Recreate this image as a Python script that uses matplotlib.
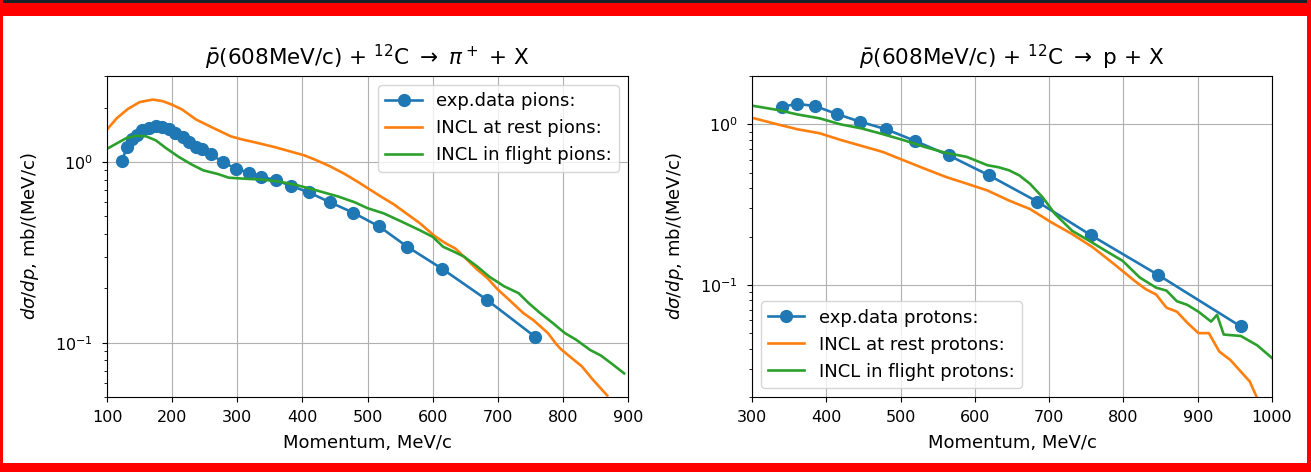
import matplotlib
matplotlib.use("Agg")
import matplotlib.pyplot as plt
from matplotlib.patches import Rectangle

# pions, left panel
pi_exp_p = [123, 131, 139, 146, 154, 164, 175, 185, 195, 205, 216, 226, 236, 246, 259,
            278, 298, 318, 337, 359, 382, 410, 442, 478, 518, 561, 615, 683, 757]
pi_exp_v = [1.02, 1.22, 1.35, 1.42, 1.51, 1.55, 1.58, 1.57, 1.53, 1.45, 1.38, 1.29, 1.22, 1.18, 1.11,
            1.0, 0.92, 0.873, 0.83, 0.795, 0.74, 0.68, 0.60, 0.525, 0.44, 0.34, 0.256, 0.173, 0.108]

pi_rest_p = [101, 115, 132, 150, 170, 185, 200, 215, 237, 261, 290, 306, 330, 358, 380, 403,
             420, 442, 465, 487, 505, 519, 540, 558, 580, 603, 620, 635, 652, 668, 684, 700,
             715, 739, 755, 777, 790, 797, 812, 829, 845, 868]
pi_rest_v = [1.53, 1.75, 1.97, 2.15, 2.22, 2.18, 2.08, 1.96, 1.72, 1.56, 1.39, 1.34, 1.28, 1.21, 1.15, 1.09,
             1.03, 0.95, 0.86, 0.77, 0.70, 0.65, 0.585, 0.525, 0.46, 0.39, 0.355, 0.332, 0.29, 0.255, 0.228, 0.197,
             0.176, 0.146, 0.133, 0.113, 0.098, 0.092, 0.083, 0.074, 0.063, 0.051]

pi_fly_p = [101, 115, 130, 145, 160, 175, 190, 210, 230, 248, 270, 287, 310, 339, 365, 390,
            420, 455, 480, 500, 525, 552, 580, 600, 616, 632, 648, 668, 687, 710, 732, 748,
            765, 785, 803, 820, 842, 858, 874, 894]
pi_fly_v = [1.19, 1.27, 1.36, 1.40, 1.39, 1.32, 1.20, 1.07, 0.97, 0.90, 0.86, 0.82, 0.81, 0.80, 0.78, 0.748,
            0.70, 0.645, 0.60, 0.556, 0.52, 0.469, 0.42, 0.386, 0.34, 0.32, 0.30, 0.265, 0.232, 0.205, 0.188, 0.165,
            0.146, 0.128, 0.113, 0.104, 0.091, 0.085, 0.077, 0.0676]

# protons, right panel
pr_exp_p = [341, 361, 385, 414, 445, 481, 519, 565, 619, 684, 756, 847, 958]
pr_exp_v = [1.29, 1.34, 1.30, 1.16, 1.04, 0.93, 0.79, 0.64, 0.481, 0.33, 0.204, 0.115, 0.055]

pr_rest_p = [303, 334, 362, 391, 419, 447, 476, 504, 532, 561, 589, 617, 646, 674, 703, 731,
             759, 788, 816, 830, 844, 858, 872, 886, 901, 915, 929, 944, 958, 970, 980]
pr_rest_v = [1.09, 1.0, 0.93, 0.88, 0.80, 0.735, 0.673, 0.597, 0.53, 0.47, 0.427, 0.387, 0.335, 0.297, 0.245, 0.207,
             0.171, 0.134, 0.105, 0.094, 0.087, 0.072, 0.068, 0.058, 0.050, 0.050, 0.0384, 0.034, 0.0288, 0.025, 0.0197]

pr_fly_p = [303, 334, 362, 391, 419, 447, 476, 504, 532, 561, 589, 617, 632, 646, 660, 674,
            691, 708, 731, 754, 776, 799, 822, 844, 858, 872, 886, 901, 918, 926, 935, 958, 980, 1000]
pr_fly_v = [1.30, 1.23, 1.15, 1.09, 1.0, 0.944, 0.869, 0.797, 0.724, 0.664, 0.627, 0.556, 0.54, 0.517, 0.48, 0.427,
            0.352, 0.276, 0.217, 0.188, 0.163, 0.141, 0.111, 0.096, 0.092, 0.079, 0.075, 0.068, 0.059, 0.065,
            0.049, 0.048, 0.042, 0.035]

plt.rcParams["lines.linewidth"] = 1.9
plt.rcParams["xtick.labelsize"] = 11.5
plt.rcParams["ytick.labelsize"] = 11.5
plt.rcParams["xtick.major.pad"] = 5.5
plt.rcParams["ytick.major.pad"] = 7

fig = plt.figure(figsize=(13.11, 4.72), dpi=100)

# screenshot frame
fig.patches.append(Rectangle((0, 0), 1, 1, transform=fig.transFigure,
                             facecolor="white", edgecolor="none", zorder=-10))
fig.patches.append(Rectangle((0, 1 - 16 / 472), 1, 16 / 472, transform=fig.transFigure,
                             facecolor="red", edgecolor="none"))
fig.patches.append(Rectangle((0, 1 - 3 / 472), 1, 3 / 472, transform=fig.transFigure,
                             facecolor="#18222b", edgecolor="none"))
fig.patches.append(Rectangle((0, 0), 1, 9 / 472, transform=fig.transFigure,
                             facecolor="red", edgecolor="none"))
fig.patches.append(Rectangle((0, 0), 2.5 / 1311, 1, transform=fig.transFigure,
                             facecolor="red", edgecolor="none"))
fig.patches.append(Rectangle((1 - 4 / 1311, 0), 4 / 1311, 1, transform=fig.transFigure,
                             facecolor="red", edgecolor="none"))

ax1 = fig.add_axes([107 / 1311, 1 - 397 / 472, 521 / 1311, 321 / 472])
ax2 = fig.add_axes([752 / 1311, 1 - 397 / 472, 520 / 1311, 321 / 472])

ax1.plot(pi_exp_p, pi_exp_v, "o-", color="C0", markersize=8.5, label="exp.data pions:")
ax1.plot(pi_rest_p, pi_rest_v, color="C1", label="INCL at rest pions:")
ax1.plot(pi_fly_p, pi_fly_v, color="C2", label="INCL in flight pions:")
ax1.set_yscale("log")
ax1.set_xlim(100, 900)
ax1.set_ylim(0.05, 3)
ax1.set_title(r"$\bar{p}$(608MeV/c) + $^{12}$C $\rightarrow$ $\pi^+$ + X", fontsize=15.5, pad=8)
ax1.legend(loc="upper right", fontsize=13)

ax2.plot(pr_exp_p, pr_exp_v, "o-", color="C0", markersize=8.5, label="exp.data protons:")
ax2.plot(pr_rest_p, pr_rest_v, color="C1", label="INCL at rest protons:")
ax2.plot(pr_fly_p, pr_fly_v, color="C2", label="INCL in flight protons:")
ax2.set_yscale("log")
ax2.set_xlim(300, 1000)
ax2.set_ylim(0.02, 2)
ax2.set_title(r"$\bar{p}$(608MeV/c) + $^{12}$C $\rightarrow$ p + X", fontsize=15.5, pad=8)
ax2.legend(loc="lower left", fontsize=13)

for ax in (ax1, ax2):
    ax.grid(True)
    ax.set_xlabel("Momentum, MeV/c", fontsize=13, labelpad=7)
    ax.set_ylabel(r"$d\sigma/dp$, mb/(MeV/c)", fontsize=13, labelpad=10)

fig.savefig("out.png", dpi=100)
